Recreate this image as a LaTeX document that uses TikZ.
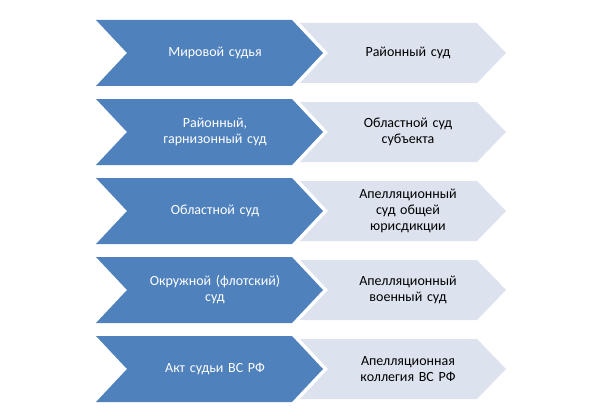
\documentclass[tikz,border=0pt]{standalone}
\usepackage{fontspec}
\setmainfont{Carlito}
\definecolor{darkchev}{HTML}{4F81BD}
\definecolor{lightchev}{HTML}{DCE2EE}
\tikzset{
  court/.style={text width=150pt, align=center, font=\fontsize{14}{16}\selectfont},
  lowcourt/.style={court, text=white},
  highcourt/.style={court, text=black}
}
\begin{document}
\begin{tikzpicture}[x=1pt,y=-1pt]
\useasboundingbox (0,0) rectangle (600,420);

\foreach \i/\low/\high in {
  0/{Мировой судья}/{Районный суд},
  1/{Районный,\\гарнизонный суд}/{Областной суд\\субъекта},
  2/{Областной суд}/{Апелляционный\\суд общей\\юрисдикции},
  3/{Окружной (флотский)\\суд}/{Апелляционный\\военный суд},
  4/{Акт судьи ВС РФ}/{Апелляционная\\коллегия ВС РФ}}{
  \pgfmathsetmacro{\t}{20+79*\i}
  % blue chevron
  \fill[darkchev] (96,\t) -- (292,\t) -- (323,\t+33) -- (292,\t+66)
    -- (96,\t+66) -- (127,\t+33) -- cycle;
  % light chevron
  \fill[lightchev] (300,\t+3) -- (477,\t+3) -- (506,\t+33) -- (477,\t+63)
    -- (300,\t+63) -- (328,\t+33) -- cycle;
  \node[lowcourt] (low\i) at (215,\t+33) {\low};
  \node[highcourt] (high\i) at (408,\t+33) {\high};
}
\end{tikzpicture}
\end{document}
